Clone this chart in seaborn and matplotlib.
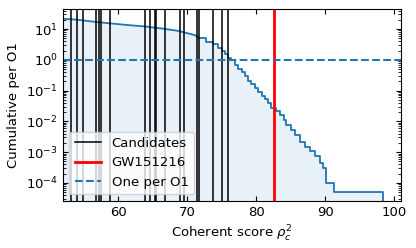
import numpy as np
import pandas as pd
import matplotlib
matplotlib.use("Agg")
import matplotlib.pyplot as plt
import seaborn as sns
from matplotlib.lines import Line2D

# background cumulative rate (per O1): smooth high-rate part
smooth_score = [51.5, 51.84, 54.26, 56.67, 59.09, 61.51, 63.91, 66.33, 68.75, 71.16, 71.8]
smooth_rate = [22.6, 21.9, 19.9, 17.1, 15.1, 13.4, 12.1, 10.4, 8.7, 6.3, 5.0]

# background cumulative rate (per O1): stepped tail
step_score = [71.8, 72.8, 73.8, 74.45, 75.0, 75.5, 75.9, 76.4, 76.9, 77.4, 77.9, 78.4,
              78.8, 79.3, 79.8, 80.3, 80.8, 81.3, 81.7, 82.2, 82.9, 83.4, 84.0, 84.4,
              85.1, 85.6, 86.3, 87.1, 87.8, 88.5, 89.2, 89.7, 90.2, 91.3, 98.4]
step_rate = [5.0, 3.93, 3.24, 2.4, 1.96, 1.57, 1.13, 1.0, 0.69, 0.51, 0.39, 0.29,
             0.21, 0.16, 0.12, 0.093, 0.069, 0.053, 0.039, 0.028, 0.021, 0.016, 0.011, 0.0078,
             0.0053, 0.0037, 0.0022, 0.0015, 0.00106, 0.00073, 0.00045, 0.0003, 0.0001, 4.9e-5, 1e-9]

candidates = [53.19, 54.12, 54.88, 56.81, 57.30, 57.54, 58.84, 63.91, 64.6, 65.3, 65.5,
              66.87, 68.94, 69.57, 71.4, 71.7, 73.77, 75.13, 75.94]
gw151216 = 82.57
one_per_o1 = 1.0

plt.rcParams['font.family'] = ['DejaVu Sans']
fig = plt.figure(figsize=(4.16, 2.48), dpi=100)
ax = fig.add_axes([0.151, 0.19, 0.813, 0.774])

blue = "#1f77b4"
df_s = pd.DataFrame({"score": smooth_score, "rate": smooth_rate})
df_t = pd.DataFrame({"score": step_score, "rate": step_rate})

ax.fill_between(df_s["score"], df_s["rate"], 1e-9, color=blue, alpha=0.1, lw=0)
ax.fill_between(df_t["score"], df_t["rate"], 1e-9, step="post", color=blue, alpha=0.1, lw=0)
sns.lineplot(data=df_s, x="score", y="rate", ax=ax, color=blue, lw=1.3,
             estimator=None, sort=False)
sns.lineplot(data=df_t, x="score", y="rate", ax=ax, drawstyle="steps-post",
             color=blue, lw=1.3, estimator=None, sort=False)

for c in candidates:
    ax.axvline(c, color="black", lw=1.1)
ax.axvline(gw151216, color="red", lw=2)
ax.axhline(one_per_o1, color=blue, ls="--", lw=1.5)

ax.set_yscale("log")
ax.set_xlim(52, 101)
ax.set_ylim(2.6e-5, 45)
ax.set_xticks([60, 70, 80, 90, 100])
ax.set_yticks([1e-4, 1e-3, 1e-2, 1e-1, 1e0, 1e1])
ax.tick_params(which="both", direction="in", top=True, right=True, labelsize=9.5)
ax.tick_params(axis="x", which="minor", bottom=False, top=False)
ax.set_xlabel(r"Coherent score $\rho_c^2$", fontsize=9.5)
ax.set_ylabel("Cumulative per O1", fontsize=9.5)

handles = [Line2D([], [], color="black", lw=1.1),
           Line2D([], [], color="red", lw=2),
           Line2D([], [], color=blue, ls="--", lw=1.5)]
ax.legend(handles, ["Candidates", "GW151216", "One per O1"], loc="lower left", fontsize=9.5)

fig.savefig("out.png", dpi=100)
